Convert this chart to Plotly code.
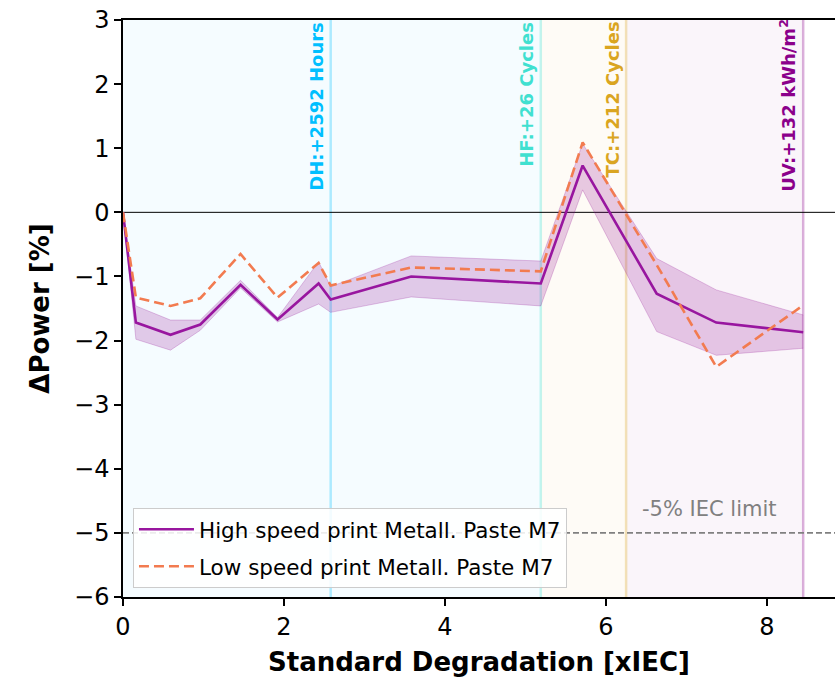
import plotly.graph_objects as go

# ---------------- data ----------------
x_vals = [0, 0.16, 0.59, 0.96, 1.46, 1.92, 2.43, 2.58, 3.58, 5.19, 5.71, 6.63, 7.37, 8.45]
high_speed = [0, -1.72, -1.91, -1.75, -1.13, -1.67, -1.11, -1.36, -1.00, -1.11, 0.73, -1.27, -1.72, -1.87]
high_upper = [0, -1.46, -1.68, -1.68, -1.06, -1.64, -0.77, -1.16, -0.68, -0.76, 1.07, -0.72, -1.21, -1.60]
high_lower = [0, -1.98, -2.15, -1.84, -1.18, -1.71, -1.43, -1.56, -1.32, -1.46, 0.35, -1.86, -2.23, -2.12]
low_speed = [0, -1.33, -1.46, -1.34, -0.65, -1.33, -0.79, -1.14, -0.86, -0.92, 1.09, -0.82, -2.41, -1.45]

series_names = ["High speed print Metall. Paste M7", "Low speed print Metall. Paste M7"]

event_labels = ["DH:+2592 Hours", "HF:+26 Cycles", "TC:+212 Cycles", "UV:+132 kWh/m<sup>2</sup>"]
event_x = [2.58, 5.19, 6.25, 8.45]
event_colors = ["#00BFFF", "#40E0D0", "#DAA520", "#8B008B"]
event_line_colors = ["rgba(0,191,255,0.3)", "rgba(64,224,208,0.3)", "rgba(218,165,32,0.3)", "rgba(139,0,139,0.3)"]
region_start = [0, 2.58, 5.19, 6.25]
region_colors = ["rgba(0,191,255,0.04)", "rgba(0,191,255,0.04)", "rgba(218,165,32,0.04)", "rgba(139,0,139,0.04)"]

iec_limit = -5
iec_text = "-5% IEC limit"

x_range = [0, 8.845]
y_range = [-6, 3]
x_ticks = [0, 2, 4, 6, 8]
y_ticks = [-6, -5, -4, -3, -2, -1, 0, 1, 2, 3]

FONT = "DejaVu Sans"
purple = "#98169f"
coral = "#f27b50"

fig = go.Figure()

# band
fig.add_trace(go.Scatter(x=x_vals, y=high_upper, mode="lines",
                         line=dict(color="rgba(139,0,139,0.22)", width=1),
                         showlegend=False, hoverinfo="skip"))
fig.add_trace(go.Scatter(x=x_vals, y=high_lower, mode="lines",
                         line=dict(color="rgba(139,0,139,0.22)", width=1),
                         fill="tonexty", fillcolor="rgba(139,0,139,0.2)",
                         showlegend=False, hoverinfo="skip"))

fig.add_trace(go.Scatter(x=x_vals, y=high_speed, mode="lines", name=series_names[0],
                         line=dict(color=purple, width=2.6), legendgroup="a"))
fig.add_trace(go.Scatter(x=x_vals, y=low_speed, mode="lines", name=series_names[1],
                         line=dict(color=coral, width=2.6, dash="10px,5px"), legendgroup="b"))

shapes = []
for i in range(len(event_x)):
    shapes.append(dict(type="rect", xref="x", yref="paper", x0=region_start[i], x1=event_x[i],
                       y0=0, y1=1, fillcolor=region_colors[i], line=dict(width=0), layer="below"))
for i in range(len(event_x)):
    shapes.append(dict(type="line", xref="x", yref="paper", x0=event_x[i], x1=event_x[i],
                       y0=0, y1=1, line=dict(color=event_line_colors[i], width=2.5), layer="below"))
shapes.append(dict(type="line", xref="paper", yref="y", x0=0, x1=1, y0=0, y1=0,
                   line=dict(color="black", width=1), layer="below"))
shapes.append(dict(type="line", xref="paper", yref="y", x0=0, x1=1, y0=iec_limit, y1=iec_limit,
                   line=dict(color="gray", width=1.8, dash="6px,3px"), layer="below"))

annotations = []
for i in range(len(event_x)):
    annotations.append(dict(x=event_x[i], xref="x", y=1, yref="paper", text=event_labels[i],
                            textangle=-90, xanchor="right", yanchor="top", showarrow=False,
                            xshift=-2, yshift=3 if i == 3 else 0,
                            font=dict(family=FONT, size=18, color=event_colors[i], weight="bold")))
annotations.append(dict(x=7.28, xref="x", y=iec_limit, yref="y", text=iec_text, showarrow=False,
                        xanchor="center", yanchor="bottom", yshift=10,
                        font=dict(family=FONT, size=21, color="gray")))

fig.update_layout(
    width=835, height=681,
    margin=dict(l=123, r=0, t=20, b=84),
    plot_bgcolor="white", paper_bgcolor="white",
    font=dict(family=FONT, color="black"),
    shapes=shapes, annotations=annotations,
    legend=dict(x=0.014, y=0.016, xanchor="left", yanchor="bottom",
                bgcolor="rgba(255,255,255,0.85)", bordercolor="#cccccc", borderwidth=1,
                font=dict(family=FONT, size=21.5), tracegroupgap=6, traceorder="grouped",
                itemwidth=55),
    xaxis=dict(range=x_range, tickvals=x_ticks, showgrid=False, zeroline=False,
               showline=True, linecolor="black", linewidth=1.5, mirror=True,
               ticks="outside", ticklen=7, tickwidth=1.5, tickcolor="black",
               tickfont=dict(size=24), automargin=False,
               title=dict(text="Standard Degradation [xIEC]", standoff=13,
                          font=dict(size=26, weight="bold"))),
    yaxis=dict(range=y_range, tickvals=y_ticks, showgrid=False, zeroline=False,
               showline=True, linecolor="black", linewidth=1.5, automargin=False,
               ticks="outside", ticklen=7, tickwidth=1.5, tickcolor="black",
               tickfont=dict(size=24),
               title=dict(text="ΔPower [%]", standoff=17,
                          font=dict(size=26, weight="bold"))),
)

fig.write_html("out.html", config={"displayModeBar": False},
               post_script="document.body.style.margin='0';")
